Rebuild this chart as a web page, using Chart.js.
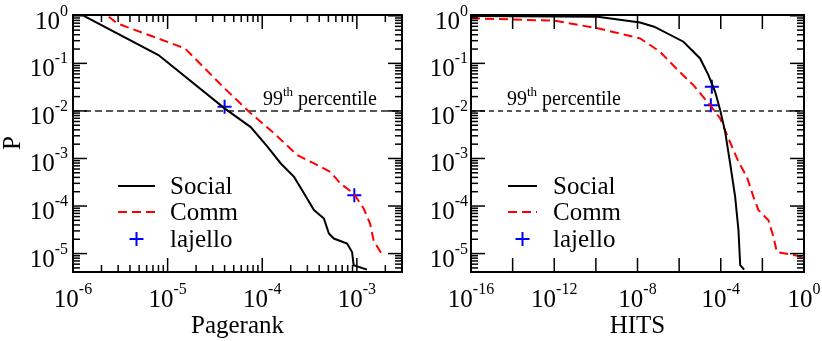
<!DOCTYPE html>
<html>
<head>
<meta charset="utf-8">
<script src="https://cdn.jsdelivr.net/npm/chart.js@4.4.0/dist/chart.umd.min.js"></script>
<style>
  html, body { margin: 0; padding: 0; background: #fff; }
  #wrap { position: relative; width: 822px; height: 341px; }
  canvas { position: absolute; top: 0; }
</style>
</head>
<body>
<div id="wrap">
  <canvas id="pr" width="411" height="341" style="left:0"></canvas>
  <canvas id="hits" width="411" height="341" style="left:411px"></canvas>
</div>
<script>
// --- data ---
const seriesNames = ["Social", "Comm", "lajello"];
const percentile = 0.01;

const prSocialX = [1.3e-6, 8.0e-6, 4.0e-5, 7.55e-5, 1.14e-4, 1.57e-4, 2.17e-4, 2.77e-4, 3.52e-4, 4.49e-4, 5.06e-4, 5.71e-4, 7.88e-4, 8.9e-4, 9.25e-4, 1.28e-3];
const prSocialY = [1.0, 0.15, 0.0113, 4.57e-3, 1.75e-3, 7.85e-4, 4.1e-4, 1.83e-4, 8.2e-5, 5.45e-5, 2.64e-5, 2.07e-5, 1.63e-5, 1.08e-5, 5.7e-6, 4.6e-6];
const prCommX = [2.39e-6, 2.92e-6, 1.52e-5, 1.79e-5, 4.0e-5, 7.6e-5, 1.34e-4, 2.35e-4, 3.52e-4, 5.26e-4, 6.7e-4, 9.25e-4, 1.18e-3, 1.38e-3, 1.5e-3, 1.91e-3];
const prCommY = [0.96, 0.695, 0.207, 0.15, 0.0298, 8.85e-3, 3.36e-3, 1.17e-3, 7.85e-4, 5.22e-4, 2.98e-4, 1.83e-4, 8.85e-5, 4.28e-5, 1.91e-5, 8.5e-6];
const prLajelloX = [4.0e-5, 9.4e-4];
const prLajelloY = [0.0122, 1.69e-4];

const hitsSocialX = [1e-16, 1.23e-10, 1.33e-8, 6.3e-8, 1.61e-6, 1.02e-5, 2.56e-5, 5.38e-5, 9.35e-5, 1.63e-4, 2.83e-4, 4.92e-4, 7.1e-4, 8.6e-4, 1.33e-3];
const hitsSocialY = [0.99, 0.96, 0.72, 0.59, 0.285, 0.127, 0.0567, 0.0252, 0.0104, 3.63e-3, 7.85e-4, 1.56e-4, 3.1e-5, 5.7e-6, 4.6e-6];
const hitsCommX = [1e-16, 1.01e-12, 1.23e-10, 1.33e-8, 1.22e-7, 8.65e-7, 4.86e-6, 3.09e-5, 9.35e-5, 2.34e-4, 4.08e-4, 7.1e-4, 1.8e-3, 3.73e-3, 6.5e-3, 0.0196, 0.0342, 0.0498, 0.378, 1];
const hitsCommY = [0.885, 0.79, 0.546, 0.336, 0.175, 0.0722, 0.0349, 0.0132, 6.95e-3, 2.64e-3, 1.5e-3, 8.5e-4, 4.1e-4, 1.56e-4, 8.2e-5, 5.0e-5, 2.24e-5, 1.08e-5, 9.2e-6, 8.4e-6];
const hitsLajelloX = [3.73e-5, 3.34e-5];
const hitsLajelloY = [0.0322, 0.0132];

const yTickExps = [0, -1, -2, -3, -4, -5];
const prXTickExps = [-6, -5, -4, -3];
const hitsXTickExps = [-16, -12, -8, -4, 0];

// --- drawing ---
const SERIF = '"Liberation Serif", "Times New Roman", serif';
const pts = (xs, ys) => xs.map((x, i) => ({ x: x, y: ys[i] }));

function pow10(ctx, exp, x, y, align) {
  const sup = String(exp);
  ctx.font = '25px ' + SERIF;
  const wb = ctx.measureText('10').width;
  ctx.font = '16px ' + SERIF;
  const ws = ctx.measureText(sup).width;
  let x0 = x;
  if (align === 'right') x0 = x - wb - ws;
  if (align === 'center') x0 = x - (wb + ws) / 2;
  ctx.textAlign = 'left';
  ctx.textBaseline = 'alphabetic';
  ctx.font = '25px ' + SERIF;
  ctx.fillText('10', x0, y);
  ctx.font = '16px ' + SERIF;
  ctx.fillText(sup, x0 + wb, y - 13);
}

const axesPlugin = {
  id: 'axesPlugin',
  afterDraw(chart, args, o) {
    const ctx = chart.ctx;
    const a = chart.chartArea;
    const x = chart.scales.x, y = chart.scales.y;
    ctx.save();
    ctx.strokeStyle = '#000';
    ctx.fillStyle = '#000';
    const line = (x1, y1, x2, y2) => {
      ctx.beginPath(); ctx.moveTo(x1, y1); ctx.lineTo(x2, y2); ctx.stroke();
    };

    // ticks, pointing inwards on all four sides
    ctx.lineWidth = 1.5;
    for (let e = -6; e <= 0; e++) {
      for (let m = 1; m <= 9; m++) {
        const v = m * Math.pow(10, e);
        if (v < y.min || v > y.max) continue;
        const py = y.getPixelForValue(v);
        const len = m === 1 ? 14 : 7;
        line(a.left, py, a.left + len, py);
        line(a.right, py, a.right - len, py);
      }
    }
    for (let e = o.xFrom; e <= o.xTo; e += o.xStep) {
      for (let m = 1; m <= (o.xMinor ? 9 : 1); m++) {
        const v = m * Math.pow(10, e);
        if (v < x.min * 0.999 || v > x.max * 1.001) continue;
        const px = x.getPixelForValue(v);
        const len = m === 1 ? 14 : 7;
        line(px, a.bottom, px, a.bottom - len);
        line(px, a.top, px, a.top + len);
      }
    }

    // frame
    ctx.lineWidth = 2;
    ctx.strokeRect(a.left, a.top, a.right - a.left, a.bottom - a.top);

    // tick labels
    yTickExps.forEach(e => pow10(ctx, e, a.left - o.yGap, y.getPixelForValue(Math.pow(10, e)) + 13, 'right'));
    o.xLabels.forEach(e => pow10(ctx, e, x.getPixelForValue(Math.pow(10, e)), 307, 'center'));

    // axis titles
    ctx.font = '25px ' + SERIF;
    ctx.textAlign = 'center';
    ctx.textBaseline = 'alphabetic';
    ctx.fillText(o.xTitle, (a.left + a.right) / 2, 333);
    if (o.yTitle) {
      ctx.save();
      ctx.translate(20, 143);
      ctx.rotate(-Math.PI / 2);
      ctx.fillText(o.yTitle, 0, 0);
      ctx.restore();
    }

    // 99th percentile label
    ctx.textAlign = 'left';
    let tx = o.pctX;
    ctx.font = '20px ' + SERIF;
    ctx.fillText('99', tx, 105);
    tx += ctx.measureText('99').width;
    ctx.font = '13px ' + SERIF;
    ctx.fillText('th', tx, 96);
    tx += ctx.measureText('th').width;
    ctx.font = '20px ' + SERIF;
    ctx.fillText(' percentile', tx, 105);

    // legend
    const ds = chart.data.datasets;
    const rows = [186, 212, 239];
    ctx.font = '25px ' + SERIF;
    seriesNames.forEach((name, i) => {
      const d = ds[i];
      const ry = rows[i];
      ctx.strokeStyle = d.borderColor;
      ctx.lineWidth = d.borderWidth;
      if (d.showLine) {
        ctx.setLineDash(d.borderDash || []);
        line(o.legX1, ry, o.legX2, ry);
        ctx.setLineDash([]);
      } else {
        const cx = (o.legX1 + o.legX2) / 2;
        line(cx - 7, ry, cx + 7, ry);
        line(cx, ry - 7, cx, ry + 7);
      }
      ctx.fillStyle = '#000';
      ctx.fillText(name, o.legText, ry + 8);
    });
    ctx.restore();
  }
};

function makeChart(id, social, comm, lajello, xMin, xMax, pad, axesOpts, pctDash) {
  return new Chart(document.getElementById(id), {
    type: 'scatter',
    data: {
      datasets: [
        { label: seriesNames[0], data: social, showLine: true, borderColor: '#000', borderWidth: 2,
          pointRadius: 0, tension: 0 },
        { label: seriesNames[1], data: comm, showLine: true, borderColor: '#ff0000', borderWidth: 2,
          borderDash: [9, 5], pointRadius: 0, tension: 0 },
        { label: seriesNames[2], data: lajello, showLine: false, borderColor: '#0000ff', backgroundColor: '#0000ff',
          borderWidth: 2, pointStyle: 'cross', pointRadius: 7 },
        { label: '99th percentile', data: [{ x: xMin, y: percentile }, { x: xMax, y: percentile }], showLine: true,
          borderColor: '#222', borderWidth: 1.5, borderDash: pctDash, pointRadius: 0, order: 5 }
      ]
    },
    options: {
      responsive: false,
      animation: false,
      devicePixelRatio: 1,
      layout: { padding: pad },
      plugins: { legend: { display: false }, tooltip: { enabled: false }, axesPlugin: axesOpts },
      scales: {
        x: { type: 'logarithmic', min: xMin, max: xMax, display: false },
        y: { type: 'logarithmic', min: 4.1e-6, max: 1.04, display: false }
      }
    },
    plugins: [axesPlugin]
  });
}

makeChart('pr', pts(prSocialX, prSocialY), pts(prCommX, prCommY), pts(prLajelloX, prLajelloY),
  1e-6, 3e-3, { left: 73, right: 6, top: 15, bottom: 69 },
  { xFrom: -6, xTo: -3, xStep: 1, xMinor: true, xLabels: prXTickExps, yGap: 5, xTitle: 'Pagerank', yTitle: 'P',
    pctX: 263, legX1: 118, legX2: 155, legText: 170 }, [7, 4]);

makeChart('hits', pts(hitsSocialX, hitsSocialY), pts(hitsCommX, hitsCommY), pts(hitsLajelloX, hitsLajelloY),
  1e-16, 1, { left: 60, right: 18, top: 15, bottom: 69 },
  { xFrom: -16, xTo: 0, xStep: 2, xMinor: false, xLabels: hitsXTickExps, yGap: 3, xTitle: 'HITS', yTitle: null,
    pctX: 96, legX1: 97, legX2: 126, legText: 142 }, [5, 4]);
</script>
</body>
</html>
